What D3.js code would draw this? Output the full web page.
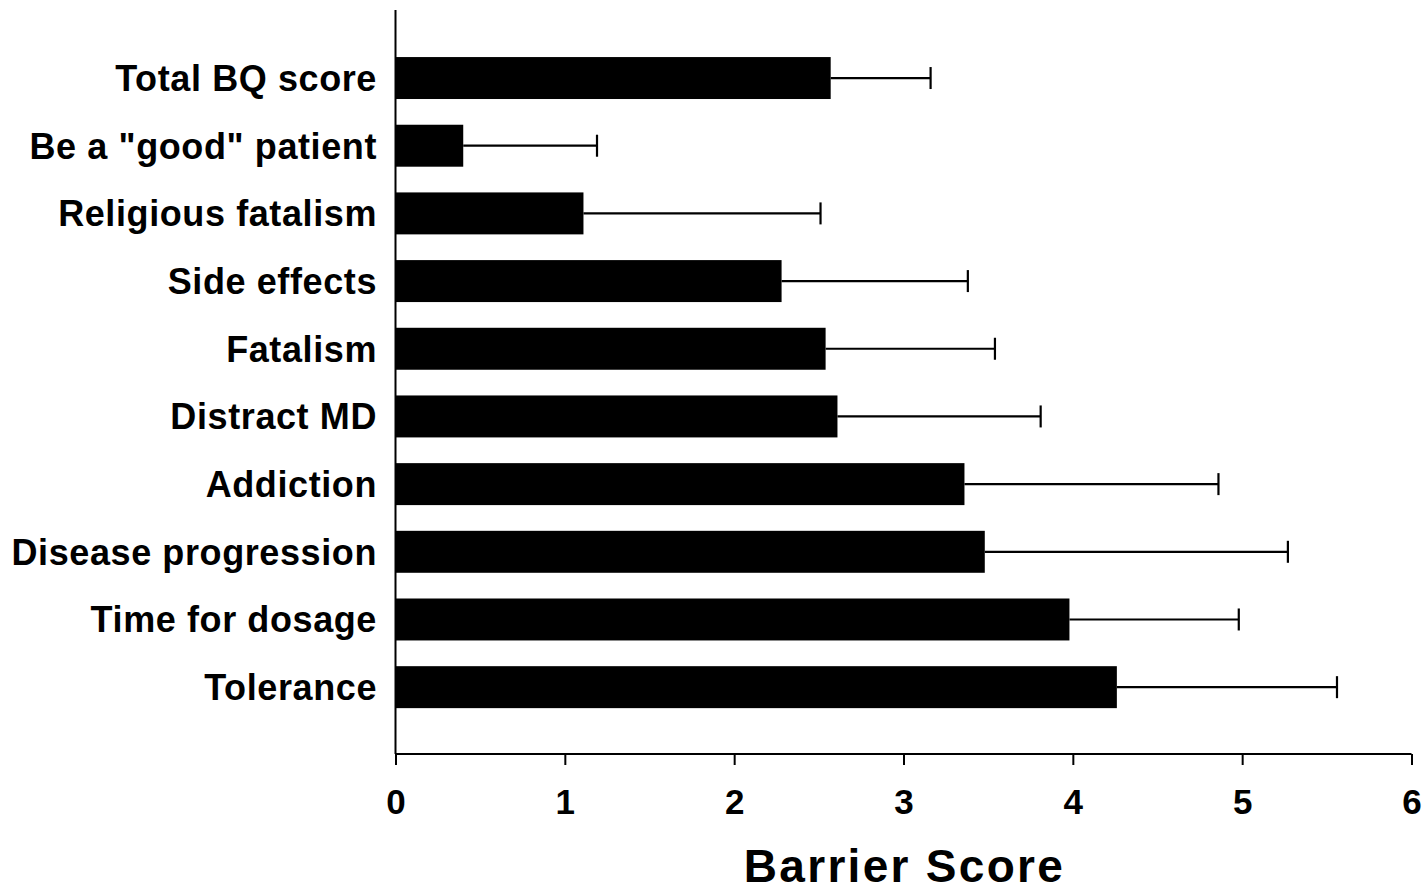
<!DOCTYPE html>
<html>
<head>
<meta charset="utf-8">
<script src="https://cdn.jsdelivr.net/npm/d3@7"></script>
<style>
  body { margin: 0; background: #fff; }
  svg text { font-family: "Liberation Sans", Arial, Helvetica, sans-serif; font-weight: bold; fill: #000; }
</style>
</head>
<body>
<svg id="chart" width="1428" height="894"></svg>
<script>
// barrier categories, top to bottom
const categories = [
  'Total BQ score',
  'Be a "good" patient',
  'Religious fatalism',
  'Side effects',
  'Fatalism',
  'Distract MD',
  'Addiction',
  'Disease progression',
  'Time for dosage',
  'Tolerance'
];
const means = [2.57, 0.40, 1.11, 2.28, 2.54, 2.61, 3.36, 3.48, 3.98, 4.26];
const sds = [0.59, 0.79, 1.40, 1.10, 1.00, 1.20, 1.50, 1.79, 1.00, 1.30];
const xTicks = [0, 1, 2, 3, 4, 5, 6];
const xTitle = 'Barrier Score';

const rows = categories.map((c, i) => ({ name: c, mean: means[i], sd: sds[i] }));

const svg = d3.select('#chart');
const plotLeft = 395.5, plotRight = 1411.5, plotTop = 10, plotBottom = 754;

const x = d3.scaleLinear().domain([0, 6]).range([plotLeft, plotRight]);
const y = d3.scaleBand()
  .domain(categories)
  .range([44.2, 721])
  .paddingInner(0.38)
  .paddingOuter(0.19);

// bars
svg.append('g').selectAll('rect')
  .data(rows)
  .join('rect')
  .attr('x', x(0))
  .attr('y', d => y(d.name))
  .attr('width', d => x(d.mean) - x(0))
  .attr('height', y.bandwidth())
  .attr('fill', '#000');

// error bars (upper side only)
const err = svg.append('g').attr('stroke', '#000').attr('stroke-width', 2.2);
err.selectAll('line.whisker')
  .data(rows)
  .join('line')
  .attr('class', 'whisker')
  .attr('x1', d => x(d.mean))
  .attr('x2', d => x(d.mean + d.sd))
  .attr('y1', d => y(d.name) + y.bandwidth() / 2)
  .attr('y2', d => y(d.name) + y.bandwidth() / 2);
err.selectAll('line.cap')
  .data(rows)
  .join('line')
  .attr('class', 'cap')
  .attr('x1', d => x(d.mean + d.sd))
  .attr('x2', d => x(d.mean + d.sd))
  .attr('y1', d => y(d.name) + y.bandwidth() / 2 - 11)
  .attr('y2', d => y(d.name) + y.bandwidth() / 2 + 11);

// category labels
svg.append('g').selectAll('text')
  .data(rows)
  .join('text')
  .attr('x', 377)
  .attr('y', d => y(d.name) + y.bandwidth() / 2)
  .attr('dy', '0.36em')
  .attr('text-anchor', 'end')
  .style('font-size', '36px')
  .style('letter-spacing', '0.6px')
  .text(d => d.name);

// x axis
const xAxis = svg.append('g')
  .attr('transform', `translate(0,${plotBottom})`)
  .call(d3.axisBottom(x).tickValues(xTicks).tickSize(11).tickPadding(24).tickFormat(d3.format('d')));
xAxis.select('.domain').attr('stroke', '#000').attr('stroke-width', 2).attr('d', `M${plotLeft},0H${plotRight}`);
xAxis.selectAll('.tick line').attr('stroke', '#000').attr('stroke-width', 2);
xAxis.selectAll('.tick text').style('font-size', '35px').attr('fill', '#000');

// y axis line (no ticks)
svg.append('line')
  .attr('x1', plotLeft).attr('x2', plotLeft)
  .attr('y1', plotTop).attr('y2', plotBottom)
  .attr('stroke', '#000').attr('stroke-width', 2);

// axis title
svg.append('text')
  .attr('x', x(3) + 1)
  .attr('y', 882)
  .attr('text-anchor', 'middle')
  .style('font-size', '46px')
  .style('letter-spacing', '2.3px')
  .text(xTitle);
</script>
</body>
</html>
